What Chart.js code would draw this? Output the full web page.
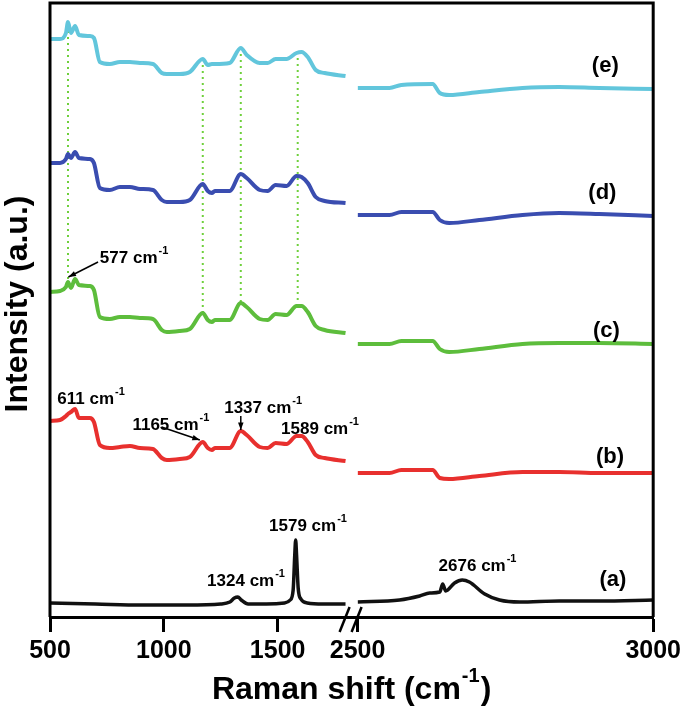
<!DOCTYPE html>
<html>
<head>
<meta charset="utf-8">
<title>Raman spectra</title>
<script src="https://cdn.jsdelivr.net/npm/chart.js@4.4.0/dist/chart.umd.min.js"></script>
<style>
  html, body { margin: 0; padding: 0; background: #fff; }
  canvas { display: block; }
</style>
</head>
<body>
<canvas id="raman" width="685" height="720"></canvas>
<script>
// Raman shift (cm-1) sampled for the coloured spectra, low range and high range
const lowShift = [500, 544, 570, 579, 592, 610, 627, 675, 693, 719, 763, 807, 851, 895, 952, 991, 1013, 1070, 1114,
  1171, 1193, 1211, 1224, 1289, 1338, 1364, 1421, 1456, 1491, 1539, 1583, 1605, 1632, 1667, 1706, 1798];
const highShift = [2500, 2554, 2574, 2627, 2639, 2655, 2706, 2779, 2841, 2909, 3000];

// offset intensities (a.u.)
const specB_low = [196, 197, 201, 203, 205, 208, 199, 199, 195, 172, 169, 170, 171, 169, 168, 159, 157, 158, 160,
  175, 169, 167, 169, 169, 186, 182, 170, 169, 174, 173, 181, 181, 175, 162, 159, 156];
const specB_high = [144, 144, 147, 147, 139, 138, 141, 145, 145, 144, 144];
const specC_low = [325, 326, 330, 335, 329, 338, 332, 331, 327, 300, 298, 300, 300, 299, 298, 287, 285, 286, 288,
  304, 297, 295, 297, 297, 314, 310, 298, 297, 303, 302, 311, 311, 305, 291, 287, 284];
const specC_high = [273, 273, 276, 276, 268, 265, 268, 273, 274, 274, 273];
const specD_low = [454, 454, 458, 463, 459, 465, 459, 458, 454, 429, 427, 430, 430, 428, 427, 417, 415, 415, 417,
  433, 426, 424, 426, 426, 443, 439, 427, 426, 432, 431, 441, 440, 434, 420, 416, 414];
const specD_high = [402, 402, 405, 405, 397, 394, 397, 402, 404, 403, 401];
const specE_low = [578, 578, 584, 595, 584, 591, 582, 581, 579, 555, 553, 555, 555, 554, 553, 544, 543, 543, 545,
  558, 552, 553, 553, 554, 569, 562, 554, 554, 558, 558, 564, 565, 560, 547, 544, 541];
const specE_high = [529, 529, 532, 533, 524, 522, 525, 529, 530, 529, 528];

// spectrum (a) has its own sampling
const specA_lowShift = [500, 700, 900, 1100, 1250, 1290, 1310, 1325, 1340, 1370, 1450, 1530, 1555, 1568, 1575, 1579,
  1583, 1590, 1602, 1630, 1700, 1798];
const specA_low = [14, 13, 12, 12, 13, 15, 19, 20, 17, 13, 13, 14, 17, 27, 62, 77, 62, 29, 18, 14, 13, 13];
const specA_highShift = [2500, 2571, 2605, 2622, 2639, 2644, 2649, 2664, 2677, 2689, 2715, 2740, 2774, 2841, 2909, 3000];
const specA_high = [15, 17, 21, 24, 25, 33, 26, 34, 37, 35, 23, 17, 15, 16, 16, 17];

// green guide lines through the shared bands
const guideShift = [579, 1171, 1338, 1588];
const guideTop = [592, 558, 569, 565];
const guideBottom = [335, 304, 314, 311];

const lowTicks = [500, 1000, 1500];
const highTicks = [2500, 3000];
const sampleLabels = ['(a)', '(b)', '(c)', '(d)', '(e)'];

const FONT = '"Liberation Sans", Arial, sans-serif';
const colors = {a: '#111111', b: '#e8302e', c: '#5dbd3c', d: '#3a4db0', e: '#62c6dc'};

const pts = (xs, ys) => xs.map((x, i) => ({x: x, y: ys[i]}));

function trace(xs, ys, color, axis, width) {
  return {
    data: pts(xs, ys),
    xAxisID: axis,
    borderColor: color,
    borderWidth: width || 4,
    pointRadius: 0,
    cubicInterpolationMode: 'monotone',
    fill: false,
    order: 1
  };
}

const datasets = [
  trace(lowShift, specE_low, colors.e, 'xl'), trace(highShift, specE_high, colors.e, 'xr'),
  trace(lowShift, specD_low, colors.d, 'xl'), trace(highShift, specD_high, colors.d, 'xr'),
  trace(lowShift, specC_low, colors.c, 'xl'), trace(highShift, specC_high, colors.c, 'xr'),
  trace(lowShift, specB_low, colors.b, 'xl'), trace(highShift, specB_high, colors.b, 'xr'),
  trace(specA_lowShift, specA_low, colors.a, 'xl', 3.5), trace(specA_highShift, specA_high, colors.a, 'xr', 3.5)
];
guideShift.forEach((w, i) => {
  datasets.push({
    data: [{x: w, y: guideTop[i]}, {x: w, y: guideBottom[i]}],
    xAxisID: 'xl',
    borderColor: '#6fd03c',
    borderWidth: 2,
    borderDash: [2, 4],
    pointRadius: 0,
    order: 10
  });
});

// text with a superscript "-1"
function supText(ctx, base, x, y, size, align) {
  ctx.font = 'bold ' + size + 'px ' + FONT;
  const w1 = ctx.measureText(base).width;
  const supSize = Math.round(size * 0.62);
  ctx.font = 'bold ' + supSize + 'px ' + FONT;
  const w2 = ctx.measureText('-1').width;
  let left = x;
  if (align === 'center') left = x - (w1 + w2) / 2;
  ctx.textAlign = 'left';
  ctx.textBaseline = 'middle';
  ctx.font = 'bold ' + size + 'px ' + FONT;
  ctx.fillText(base, left, y);
  ctx.font = 'bold ' + supSize + 'px ' + FONT;
  ctx.fillText('-1', left + w1 + 1, y - size * 0.42);
  return left + w1 + w2 + 1;
}

function arrow(ctx, x1, y1, x2, y2) {
  const ang = Math.atan2(y2 - y1, x2 - x1);
  ctx.lineWidth = 1.5;
  ctx.beginPath();
  ctx.moveTo(x1, y1);
  ctx.lineTo(x2, y2);
  ctx.stroke();
  ctx.beginPath();
  ctx.moveTo(x2, y2);
  ctx.lineTo(x2 - 8 * Math.cos(ang - 0.35), y2 - 8 * Math.sin(ang - 0.35));
  ctx.lineTo(x2 - 8 * Math.cos(ang + 0.35), y2 - 8 * Math.sin(ang + 0.35));
  ctx.closePath();
  ctx.fill();
}

const decorations = {
  id: 'decorations',
  afterDraw(chart) {
    const {ctx, chartArea: a, scales} = chart;
    const xl = scales.xl, xr = scales.xr, y = scales.y;
    const L = (w) => xl.getPixelForValue(w);
    const R = (w) => xr.getPixelForValue(w);
    const Y = (v) => y.getPixelForValue(v);
    ctx.save();
    ctx.fillStyle = '#000';
    ctx.strokeStyle = '#000';

    // box
    ctx.lineWidth = 3;
    ctx.beginPath();
    ctx.moveTo(a.left, a.bottom);
    ctx.lineTo(a.left, a.top);
    ctx.lineTo(a.right, a.top);
    ctx.lineTo(a.right, a.bottom);
    ctx.stroke();

    // axis break marks
    const bx = xr.left;
    ctx.lineWidth = 2.5;
    [-18, -6].forEach(d => {
      ctx.beginPath();
      ctx.moveTo(bx + d, a.bottom + 15);
      ctx.lineTo(bx + d + 10, a.bottom - 10);
      ctx.stroke();
    });

    // peak labels
    supText(ctx, '577 cm', L(719), Y(359), 17);
    arrow(ctx, L(711), Y(355), L(581), Y(340));
    supText(ctx, '611 cm', L(532), Y(218), 17);
    supText(ctx, '1165 cm', L(862), Y(192), 17);
    arrow(ctx, L(990), Y(190), L(1158), Y(177));
    supText(ctx, '1337 cm', L(1265), Y(209), 17);
    arrow(ctx, L(1338), Y(201), L(1338), Y(187));
    supText(ctx, '1589 cm', L(1515), Y(188), 17);
    supText(ctx, '1324 cm', L(1190), Y(36), 17);
    supText(ctx, '1579 cm', L(1462), Y(91), 17);
    supText(ctx, '2676 cm', R(2637), Y(51), 17);

    // sample labels
    const labelY = [37, 160, 286, 424, 551];
    const labelX = [2932, 2927, 2921, 2914, 2919];
    ctx.font = 'bold 22px ' + FONT;
    ctx.textAlign = 'center';
    ctx.textBaseline = 'middle';
    sampleLabels.forEach((s, i) => ctx.fillText(s, R(labelX[i]), Y(labelY[i])));

    // axis titles
    ctx.font = 'bold 32px ' + FONT;
    const t1 = 'Raman shift (cm';
    const wT = ctx.measureText(t1).width;
    ctx.font = 'bold 20px ' + FONT;
    const wS = ctx.measureText('-1').width;
    ctx.font = 'bold 32px ' + FONT;
    const wP = ctx.measureText(')').width;
    const cx = (a.left + a.right) / 2;
    const start = cx - (wT + wS + wP + 2) / 2;
    const end = supText(ctx, t1, start, 690, 32);
    ctx.font = 'bold 32px ' + FONT;
    ctx.fillText(')', end + 1, 690);

    ctx.translate(18, 304);
    ctx.rotate(-Math.PI / 2);
    ctx.font = 'bold 32px ' + FONT;
    ctx.textAlign = 'center';
    ctx.textBaseline = 'middle';
    ctx.fillText('Intensity (a.u.)', 0, 0);
    ctx.restore();
  }
};

function bottomAxis(min, max, weight, tickValues) {
  return {
    type: 'linear',
    position: 'bottom',
    stack: 'shift',
    stackWeight: weight,
    min: min,
    max: max,
    afterBuildTicks: (scale) => { scale.ticks = tickValues.map(v => ({value: v})); },
    afterFit: (scale) => { scale.height = 103; },
    border: {display: true, color: '#000', width: 3},
    grid: {drawOnChartArea: false, drawTicks: true, tickLength: 15, tickWidth: 3, tickColor: '#000'},
    ticks: {
      color: '#000',
      padding: 4,
      maxRotation: 0,
      autoSkip: false,
      callback: (v) => String(v),
      font: {family: FONT, size: 25, weight: 'bold'}
    }
  };
}

new Chart(document.getElementById('raman'), {
  type: 'line',
  data: {datasets: datasets},
  options: {
    responsive: false,
    animation: false,
    devicePixelRatio: 1,
    layout: {padding: {left: 50, right: 31, top: 3, bottom: 0}},
    plugins: {legend: {display: false}, tooltip: {enabled: false}},
    scales: {
      xl: bottomAxis(500, 1851, 308, lowTicks),
      xr: bottomAxis(2500, 3000, 296, highTicks),
      y: {type: 'linear', display: false, min: 0, max: 614}
    }
  },
  plugins: [decorations]
});
</script>
</body>
</html>
